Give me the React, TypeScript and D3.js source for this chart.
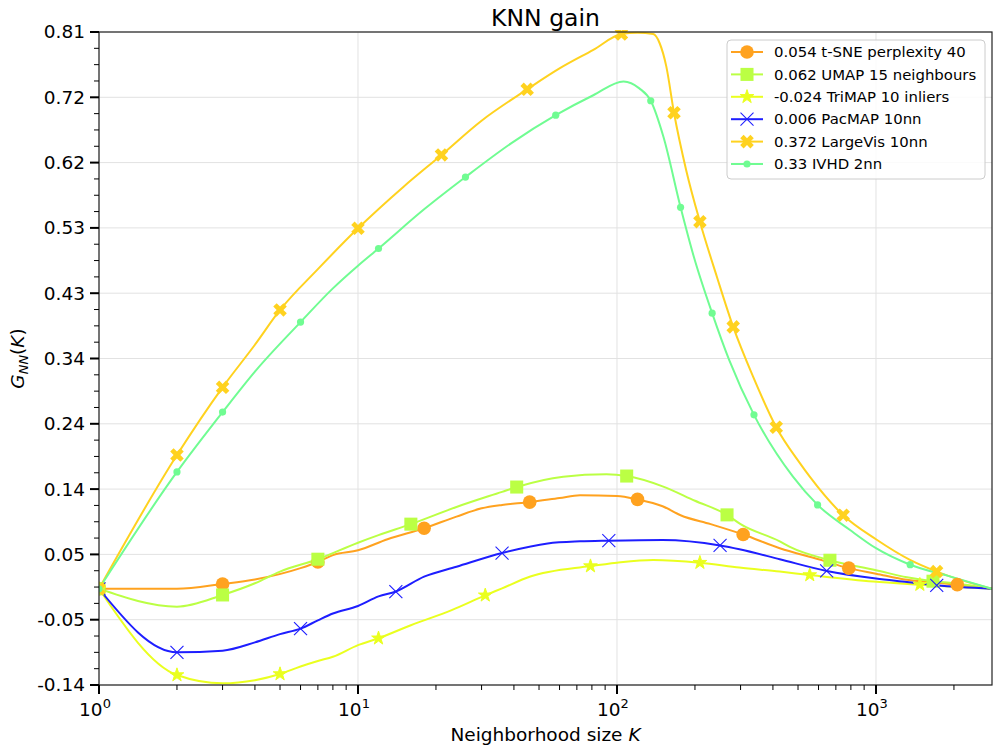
import React from 'react';
import * as d3 from 'd3';

// ---------- data ----------
const seriesNames = [
  '0.054 t-SNE perplexity 40',
  '0.062 UMAP 15 neighbours',
  '-0.024 TriMAP 10 inliers',
  '0.006 PacMAP 10nn',
  '0.372 LargeVis 10nn',
  '0.33 IVHD 2nn',
];

const tsneK = [1, 2, 3, 4, 6, 7, 8, 10, 13, 18, 24, 30, 36, 46, 60, 72, 100, 120, 150, 176, 230, 307, 425, 600, 785, 1000, 1317, 1700, 2060, 2805];
const tsneV = [0, 0.0, 0.007, 0.0135, 0.03, 0.039, 0.049, 0.056, 0.072, 0.088, 0.105, 0.117, 0.122, 0.126, 0.132, 0.136, 0.135, 0.13, 0.12, 0.107, 0.094, 0.079, 0.059, 0.043, 0.03, 0.022, 0.013, 0.009, 0.006, 0];
const tsneMarkK = [1, 3, 7, 18, 46, 120, 307, 785, 2060];

const umapK = [1, 2, 3, 4, 5, 7, 10, 12, 16, 24, 36, 41, 62, 91, 109, 150, 200, 266, 300, 425, 465, 664, 1000, 1317, 1660, 2000, 2805];
const umapV = [0, -0.026, -0.009, 0.008, 0.025, 0.043, 0.067, 0.078, 0.094, 0.119, 0.141, 0.148, 0.163, 0.1665, 0.164, 0.149, 0.128, 0.1075, 0.094, 0.069, 0.061, 0.0415, 0.027, 0.0167, 0.011, 0.008, 0];
const umapMarkK = [1, 3, 7, 16, 41, 109, 266, 664, 1660];

const trimapK = [1, 2, 3, 4, 5, 6, 7, 8, 10, 12, 16, 23, 31, 36, 46, 79, 100, 138, 209, 297, 425, 555, 977, 1477, 2000, 2805];
const trimapV = [0, -0.1255, -0.1375, -0.133, -0.124, -0.113, -0.105, -0.099, -0.082, -0.072, -0.053, -0.031, -0.0095, 0.0006, 0.0175, 0.033, 0.038, 0.042, 0.038, 0.031, 0.025, 0.02, 0.0104, 0.006, 0.003, 0];
const trimapMarkK = [1, 2, 5, 12, 31, 79, 209, 555, 1477];

const pacmapK = [1, 2, 3, 4, 5, 6, 7, 8, 10, 12, 14, 18, 24, 36, 54, 72, 93, 150, 250, 297, 425, 645, 1000, 1317, 1716, 2805];
const pacmapV = [0, -0.0924, -0.09, -0.078, -0.066, -0.058, -0.046, -0.036, -0.025, -0.011, -0.004, 0.0176, 0.032, 0.052, 0.066, 0.069, 0.07, 0.071, 0.063, 0.0575, 0.043, 0.026, 0.015, 0.01, 0.005, 0];
const pacmapMarkK = [1, 2, 6, 14, 36, 93, 250, 645, 1716];

const largevisK = [1, 2, 3, 4, 5, 7, 10, 15, 21, 30, 45, 60, 81, 104, 120, 138, 146, 155, 166, 185, 209, 243, 281, 335, 412, 510, 555, 747, 1000, 1353, 1714, 2805];
const largevisV = [0, 0.1946, 0.2931, 0.355, 0.4056, 0.465, 0.5244, 0.585, 0.6311, 0.681, 0.7266, 0.757, 0.784, 0.807, 0.809, 0.807, 0.794, 0.76, 0.6925, 0.609, 0.534, 0.454, 0.381, 0.309, 0.235, 0.182, 0.163, 0.107, 0.072, 0.042, 0.025, 0];
const largevisMarkK = [1, 2, 3, 5, 10, 21, 45, 104, 166, 209, 281, 412, 747, 1714];

const ivhdK = [1, 2, 3, 4, 6, 8, 10, 12, 18, 26, 39, 58, 81, 106, 122, 135, 151, 176, 198, 233, 271, 338, 478, 595, 794, 1000, 1355, 1928, 2805];
const ivhdV = [0, 0.17, 0.257, 0.316, 0.388, 0.437, 0.47, 0.495, 0.552, 0.599, 0.648, 0.689, 0.718, 0.738, 0.728, 0.71, 0.658, 0.555, 0.483, 0.401, 0.333, 0.253, 0.163, 0.122, 0.0855, 0.059, 0.035, 0.018, 0];
const ivhdMarkK = [1, 2, 3, 6, 12, 26, 58, 135, 176, 233, 338, 595, 1355];

const yTickLabels = ['-0.14', '-0.05', '0.05', '0.14', '0.24', '0.34', '0.43', '0.53', '0.62', '0.72', '0.81'];
const xTickExps = [0, 1, 2, 3];

const colors = ['#ffa21f', '#bbff44', '#eaff1f', '#1e1eff', '#ffd21f', '#70fc92'];
const markerTypes = ['circle', 'square', 'star', 'x', 'X', 'dot'];

const allK = [tsneK, umapK, trimapK, pacmapK, largevisK, ivhdK];
const allV = [tsneV, umapV, trimapV, pacmapV, largevisV, ivhdV];
const allMarkK = [tsneMarkK, umapMarkK, trimapMarkK, pacmapMarkK, largevisMarkK, ivhdMarkK];

const FONT = 'DejaVu Sans';

function Marker({ type, cx, cy, color }: { type: string; cx: number; cy: number; color: string }) {
  const t = `translate(${cx},${cy})`;
  if (type === 'circle') return <circle cx={cx} cy={cy} r={6.8} fill={color} />;
  if (type === 'square') return <path transform={t} d={d3.symbol(d3.symbolSquare, 170)() as string} fill={color} />;
  if (type === 'star') return <path transform={t} d={d3.symbol(d3.symbolStar, 58)() as string} fill={color} stroke={color} strokeWidth={1} strokeLinejoin="miter" />;
  if (type === 'X') return <path transform={t + ' rotate(45)'} d={d3.symbol(d3.symbolCross, 115)() as string} fill={color} />;
  if (type === 'x')
    return (
      <g transform={t} stroke={color} strokeWidth={1.1}>
        <line x1={-6.5} y1={-6.5} x2={6.5} y2={6.5} />
        <line x1={-6.5} y1={6.5} x2={6.5} y2={-6.5} />
      </g>
    );
  return <circle cx={cx} cy={cy} r={3.6} fill={color} />;
}

export default function App() {
  const W = 998, H = 754;
  const L = 99, R = 992, T = 32, B = 685;
  const yMin = -0.14, yMax = 0.81;
  const x = d3.scaleLog().domain([1, 2805]).range([L, R]);
  const y = d3.scaleLinear().domain([yMin, yMax]).range([B, T]);
  const yTickVals = yTickLabels.map((_, i) => yMin + (i * (yMax - yMin)) / (yTickLabels.length - 1));
  const yMinorVals: number[] = [];
  for (let i = 0; i < yTickVals.length - 1; i++) {
    const s = (yTickVals[i + 1] - yTickVals[i]) / 4;
    for (let j = 1; j < 4; j++) yMinorVals.push(yTickVals[i] + j * s);
  }
  const xMinor: number[] = [];
  for (let e = 0; e < 4; e++) for (let m = 2; m < 10; m++) { const v = m * Math.pow(10, e); if (v <= 2805) xMinor.push(v); }

  const line = d3.line<[number, number]>().x(d => x(d[0])).y(d => y(d[1])).curve(d3.curveMonotoneX);
  const series = allK.map((ks, i) => ks.map((k, j) => [k, allV[i][j]] as [number, number]));

  const legX = 727, legY = 40, legW = 258, legH = 139, rowH = 22.4;

  return (
    <svg width={W} height={H} style={{ position: 'absolute', left: 0, top: 0, background: '#fff' }} fontFamily={FONT}>
      <defs>
        <clipPath id="plotclip"><rect x={L} y={T - 2} width={R - L} height={B - T + 4} /></clipPath>
      </defs>
      <rect x={0} y={0} width={W} height={H} fill="#fff" />
      {/* grid */}
      <g stroke="#e2e2e2" strokeWidth={1}>
        {yTickVals.map((v, i) => <line key={'gy' + i} x1={L} x2={R} y1={y(v)} y2={y(v)} />)}
        {xTickExps.map(e => <line key={'gx' + e} x1={x(Math.pow(10, e))} x2={x(Math.pow(10, e))} y1={T} y2={B} />)}
      </g>
      {/* series */}
      <g clipPath="url(#plotclip)">
        {series.map((s, i) => (
          <path key={'l' + i} d={line(s) as string} fill="none" stroke={colors[i]} strokeWidth={2} />
        ))}
        {series.map((s, i) => (
          <g key={'m' + i}>
            {allMarkK[i].map(k => {
              const d = s.find(p => p[0] === k)!;
              return <Marker key={k} type={markerTypes[i]} cx={x(d[0])} cy={y(d[1])} color={colors[i]} />;
            })}
          </g>
        ))}
      </g>
      {/* frame */}
      <rect x={L} y={T} width={R - L} height={B - T} fill="none" stroke="#222" strokeWidth={1.2} />
      {/* ticks */}
      <g stroke="#000">
        {yTickVals.map((v, i) => <line key={'yt' + i} x1={L - 9} x2={L} y1={y(v)} y2={y(v)} strokeWidth={2} />)}
        {yMinorVals.map((v, i) => <line key={'ym' + i} x1={L - 5} x2={L} y1={y(v)} y2={y(v)} strokeWidth={1} />)}
        {xTickExps.map(e => <line key={'xt' + e} x1={x(Math.pow(10, e))} x2={x(Math.pow(10, e))} y1={B} y2={B + 9} strokeWidth={2} />)}
        {xMinor.map((v, i) => <line key={'xm' + i} x1={x(v)} x2={x(v)} y1={B} y2={B + 5} strokeWidth={1} />)}
      </g>
      {yTickLabels.map((lab, i) => (
        <text key={'yl' + i} x={L - 14} y={y(yTickVals[i])} dy="0.35em" textAnchor="end" fontSize={18.5} fill="#000">{lab}</text>
      ))}
      {xTickExps.map(e => (
        <text key={'xl' + e} x={x(Math.pow(10, e)) - 4} y={716} textAnchor="middle" fontSize={18.5} fill="#000">
          10<tspan dy={-8} fontSize={13}>{e}</tspan>
        </text>
      ))}
      {/* labels */}
      <text x={(L + R) / 2} y={741} textAnchor="middle" fontSize={18.5}>
        Neighborhood size <tspan fontStyle="italic">K</tspan>
      </text>
      <text transform={`translate(24,${(T + B) / 2}) rotate(-90)`} textAnchor="middle" fontSize={18.5}>
        <tspan fontStyle="italic">G</tspan>
        <tspan fontSize={13} fontStyle="italic" dy={4}>NN</tspan>
        <tspan dy={-4}>(</tspan>
        <tspan fontStyle="italic">K</tspan>
        <tspan>)</tspan>
      </text>
      <text x={(L + R) / 2} y={26} textAnchor="middle" fontSize={23.5}>KNN gain</text>
      {/* legend */}
      <rect x={legX} y={legY} width={legW} height={legH} rx={4} fill="#fff" fillOpacity={0.85} stroke="#cccccc" strokeWidth={1} />
      {seriesNames.map((name, i) => {
        const cy = legY + 12 + i * rowH;
        return (
          <g key={'lg' + i}>
            <line x1={731} x2={763} y1={cy} y2={cy} stroke={colors[i]} strokeWidth={2} />
            <Marker type={markerTypes[i]} cx={747} cy={cy} color={colors[i]} />
            <text x={774} y={cy} dy="0.35em" fontSize={14.9} fill="#000">{name}</text>
          </g>
        );
      })}
    </svg>
  );
}
